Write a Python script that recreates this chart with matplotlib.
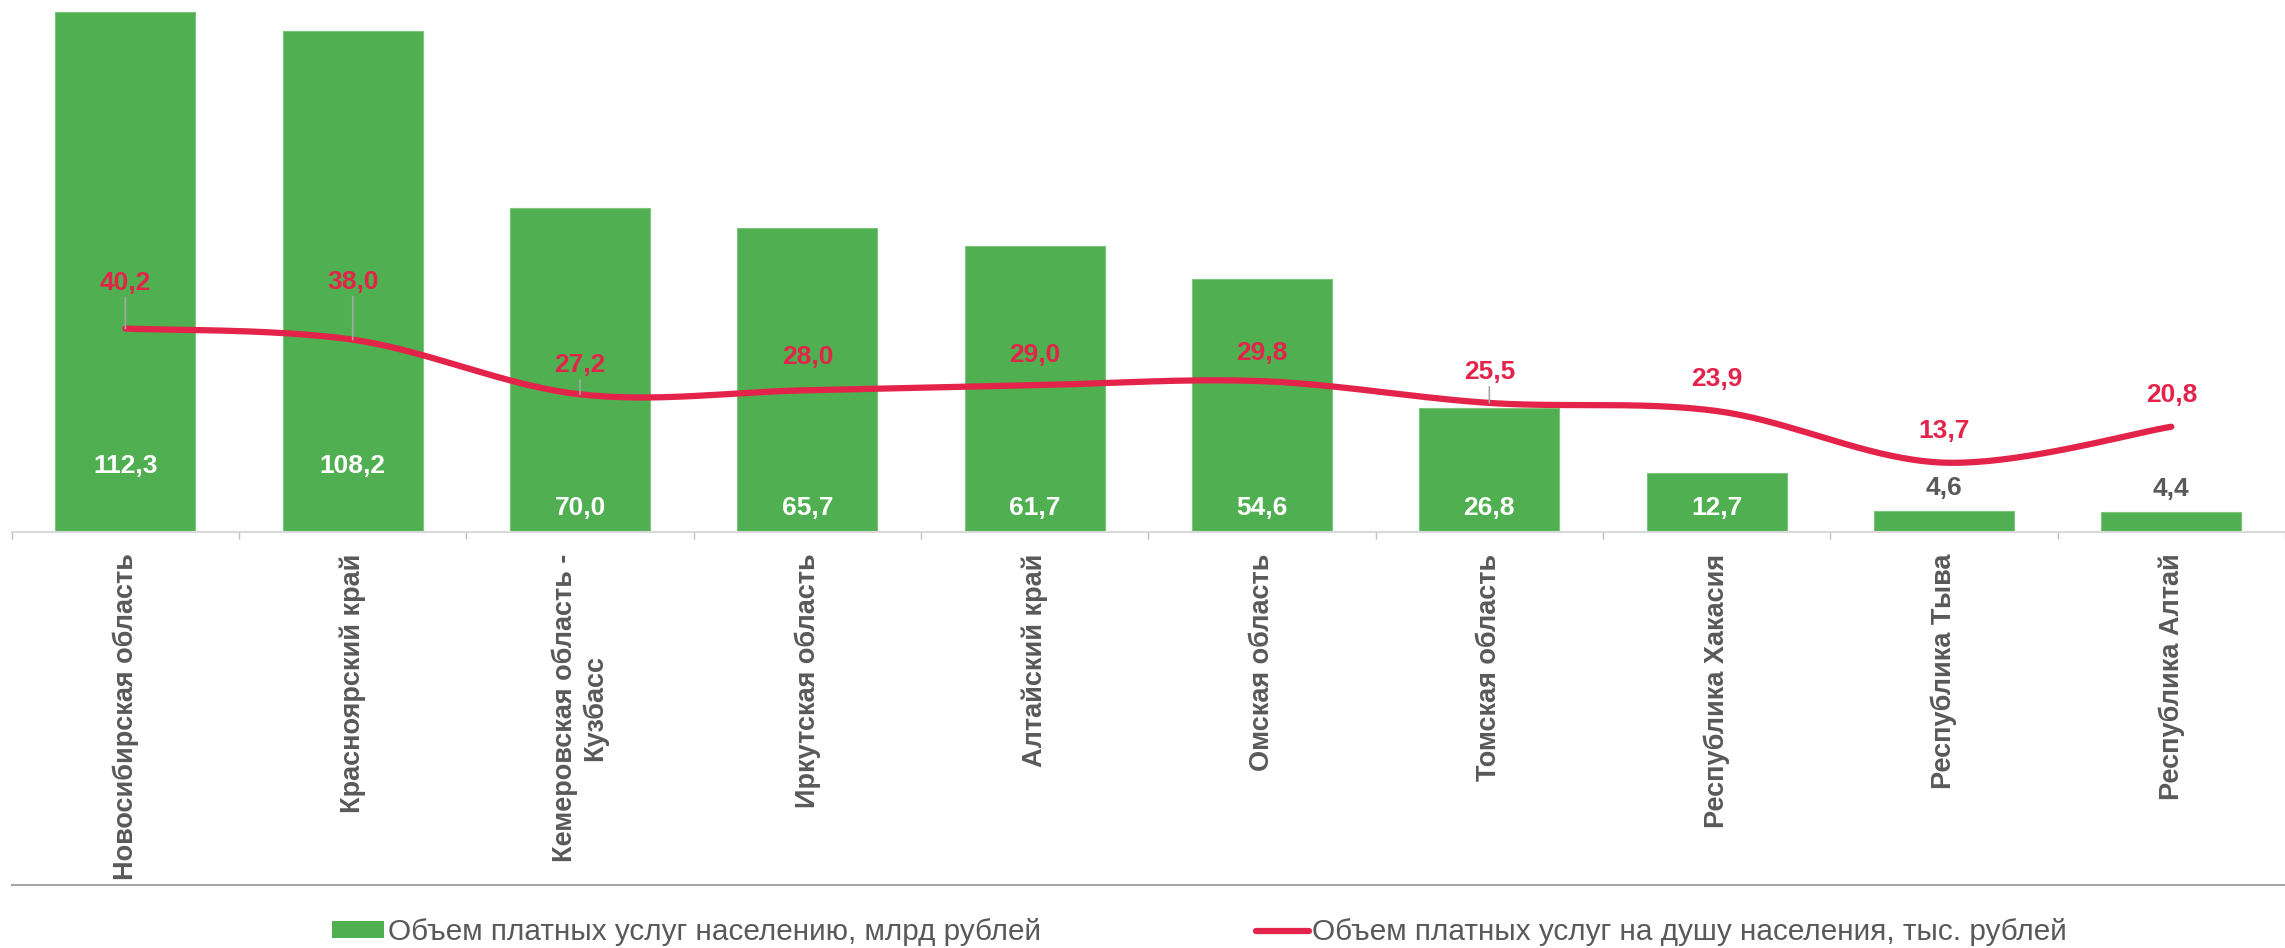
import numpy as np
import matplotlib.pyplot as plt
from matplotlib.patches import Patch
from matplotlib.lines import Line2D

plt.rcParams['font.family'] = ['Liberation Sans', 'DejaVu Sans']

# данные
regions = ['Новосибирская область', 'Красноярский край', 'Кемеровская область -\nКузбасс',
           'Иркутская область', 'Алтайский край', 'Омская область', 'Томская область',
           'Республика Хакасия', 'Республика Тыва', 'Республика Алтай']
volume = [112.3, 108.2, 70.0, 65.7, 61.7, 54.6, 26.8, 12.7, 4.6, 4.4]          # млрд рублей
per_capita = [40.2, 38.0, 27.2, 28.0, 29.0, 29.8, 25.5, 23.9, 13.7, 20.8]      # тыс. рублей
legend_labels = ['Объем платных услуг населению, млрд рублей',
                 'Объем платных услуг на душу населения, тыс. рублей']

GREEN = '#50AF50'
RED = '#E3234A'
GREY = '#595959'


def fmt(v):
    return f'{v:.1f}'.replace('.', ',')


def smooth(x, y, n=40):
    # сглаживание как в Excel (Безье по Катмуллу-Рому)
    p = np.column_stack([x, y]).astype(float)
    p = np.vstack([p[0], p, p[-1]])
    t = np.linspace(0, 1, n)[:, None]
    segs = []
    for i in range(1, len(p) - 2):
        p0, p1, p2, p3 = p[i - 1], p[i], p[i + 1], p[i + 2]
        c1 = p1 + (p2 - p0) / 6
        c2 = p2 - (p3 - p1) / 6
        segs.append((1 - t) ** 3 * p1 + 3 * (1 - t) ** 2 * t * c1 + 3 * (1 - t) * t ** 2 * c2 + t ** 3 * p2)
    s = np.vstack(segs)
    return s[:, 0], s[:, 1]


fig = plt.figure(figsize=(22.85, 9.48), dpi=100)
ax = fig.add_axes([0.00512, 0.43882, 0.99488, 0.56118])
x = np.arange(len(regions))

ax.bar(x, volume, width=0.615, color=GREEN, edgecolor='#7CC47C', linewidth=0.8, zorder=2)
ax.set_xlim(-0.5, 9.436)
ax.set_ylim(0, 114.8)

for i, v in enumerate(volume):
    if v < 10:
        ax.annotate(fmt(v), (i, v), xytext=(0, 23), textcoords='offset pixels',
                    ha='center', va='center', fontsize=19, fontweight='bold', color=GREY)
    else:
        dy = 66 if v > 100 else 24
        ax.annotate(fmt(v), (i, 0), xytext=(0, dy), textcoords='offset pixels',
                    ha='center', va='center', fontsize=19, fontweight='bold', color='white')

for s in ['left', 'right', 'top']:
    ax.spines[s].set_visible(False)
ax.spines['bottom'].set_color('#D9D9D9')
ax.spines['bottom'].set_linewidth(1.5)
ax.set_yticks([])
ax.set_xticks(x)
ax.set_xticklabels(regions, rotation=90, fontsize=19.5, fontweight='bold', color=GREY,
                   ha='center', va='top')
ax.set_xticks(np.arange(-0.5, 10, 1), minor=True)
ax.tick_params(axis='x', which='major', length=0, pad=15.5)
ax.tick_params(axis='x', which='minor', length=5, width=1, color='#BFBFBF')

# линия на второй оси
ax2 = ax.twinx()
ax2.set_ylim(0, 105.1)
ax2.set_yticks([])
for s in ax2.spines.values():
    s.set_visible(False)
sx, sy = smooth(x, per_capita)
ax2.plot(sx, sy, color=RED, lw=4.5, solid_capstyle='round', zorder=3)

label_dy = [46, 58, 29, 33, 30, 28, 31, 32, 32, 32]
leaders = [0, 1, 2, 6]
for i, v in enumerate(per_capita):
    arrow = None
    if i in leaders:
        arrow = dict(arrowstyle='-', color='#A6A6A6', lw=1.2, shrinkA=0, shrinkB=0)
    ax2.annotate(fmt(v), (i, v), xytext=(0, label_dy[i]), textcoords='offset pixels',
                 ha='center', va='center', fontsize=19, fontweight='bold', color=RED,
                 arrowprops=arrow, zorder=4)

# нижняя линия и легенда
fig.add_artist(Line2D([0.0053, 1], [0.0665, 0.0665], color='#A6A6A6', lw=1.5))
h1 = Patch(facecolor=GREEN, edgecolor='none')
h2 = Line2D([], [], color=RED, lw=4.5, solid_capstyle='round')
fig.legend([h1], [legend_labels[0]], loc='center left', bbox_to_anchor=(332 / 2285, 0.0169),
           frameon=False, fontsize=21.4, labelcolor=GREY, handlelength=1.75, handleheight=0.47,
           handletextpad=0.14, borderpad=0, borderaxespad=0)
fig.legend([h2], [legend_labels[1]], loc='center left', bbox_to_anchor=(1256 / 2285, 0.0169),
           frameon=False, fontsize=21.4, labelcolor=GREY, handlelength=1.78, handleheight=0.47,
           handletextpad=0.1, borderpad=0, borderaxespad=0)

fig.savefig('out.png', dpi=100)
